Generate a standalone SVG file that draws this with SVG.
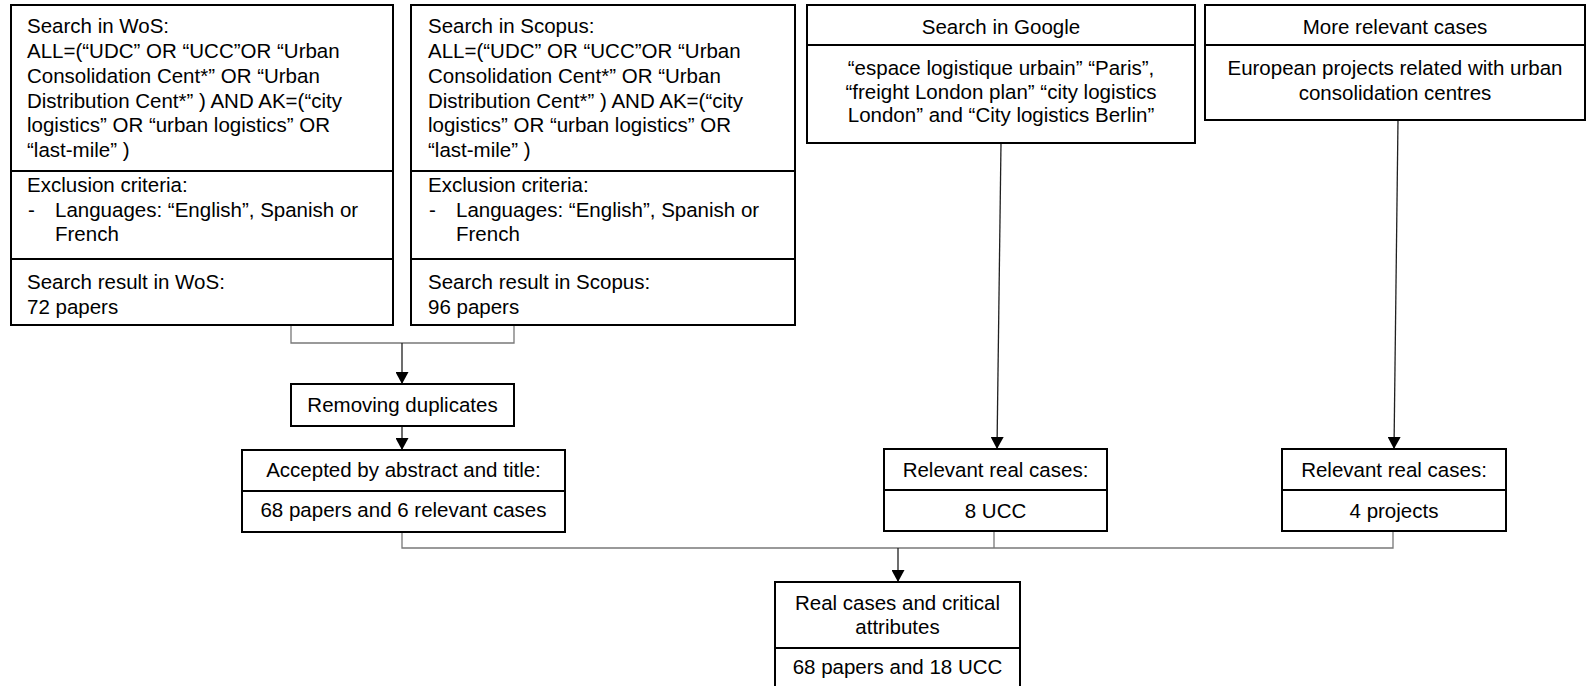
<svg xmlns="http://www.w3.org/2000/svg" width="1587" height="686" viewBox="0 0 1587 686">
<style>
  .box { fill: #ffffff; stroke: #000000; stroke-width: 2; }
  .div { stroke: #000000; stroke-width: 2; }
  .t { font-family: "Liberation Sans", Arial, sans-serif; font-size: 20.5px; fill: #000000; }
  .c { text-anchor: middle; }
  .conn { fill: none; stroke: #787878; stroke-width: 1.3; }
  .arr { fill: none; stroke: #202020; stroke-width: 1.3; marker-end: url(#ah); }
</style>
<defs>
  <marker id="ah" viewBox="0 0 12 13" refX="12" refY="6.5" markerWidth="12" markerHeight="13" markerUnits="userSpaceOnUse" orient="auto">
    <path d="M0,0 L12,6.5 L0,13 Z" fill="#000000"/>
  </marker>
</defs>
<rect width="1587" height="686" fill="#ffffff"/>

<g id="connectors">
  <polyline class="conn" points="291,325 291,343 514,343 514,325"/>
  <line class="arr" x1="402" y1="343" x2="402" y2="384"/>
  <line class="arr" x1="402" y1="426" x2="402" y2="450"/>
  <line class="arr" x1="1001" y1="143" x2="997" y2="449"/>
  <line class="arr" x1="1398" y1="120" x2="1394" y2="449"/>
  <polyline class="conn" points="402,532 402,548 1393,548 1393,531"/>
  <line class="conn" x1="994" y1="531" x2="994" y2="548"/>
  <line class="arr" x1="898" y1="548" x2="898" y2="582"/>
</g>

<g id="wos">
  <rect class="box" x="11" y="5" width="382" height="320"/>
  <line class="div" x1="11" y1="171" x2="393" y2="171"/>
  <line class="div" x1="11" y1="259" x2="393" y2="259"/>
  <text class="t" x="27" y="33">Search in WoS:</text>
  <text class="t" x="27" y="58">ALL=(“UDC” OR “UCC”OR “Urban</text>
  <text class="t" x="27" y="83">Consolidation Cent*” OR “Urban</text>
  <text class="t" x="27" y="108">Distribution Cent*” ) AND AK=(“city</text>
  <text class="t" x="27" y="132">logistics” OR “urban logistics” OR</text>
  <text class="t" x="27" y="157">“last-mile” )</text>
  <text class="t" x="27" y="192">Exclusion criteria:</text>
  <text class="t" x="28" y="217">-</text>
  <text class="t" x="55" y="217">Languages: “English”, Spanish or</text>
  <text class="t" x="55" y="241">French</text>
  <text class="t" x="27" y="289">Search result in WoS:</text>
  <text class="t" x="27" y="314">72 papers</text>
</g>

<g id="scopus">
  <rect class="box" x="411" y="5" width="384" height="320"/>
  <line class="div" x1="411" y1="171" x2="795" y2="171"/>
  <line class="div" x1="411" y1="259" x2="795" y2="259"/>
  <text class="t" x="428" y="33">Search in Scopus:</text>
  <text class="t" x="428" y="58">ALL=(“UDC” OR “UCC”OR “Urban</text>
  <text class="t" x="428" y="83">Consolidation Cent*” OR “Urban</text>
  <text class="t" x="428" y="108">Distribution Cent*” ) AND AK=(“city</text>
  <text class="t" x="428" y="132">logistics” OR “urban logistics” OR</text>
  <text class="t" x="428" y="157">“last-mile” )</text>
  <text class="t" x="428" y="192">Exclusion criteria:</text>
  <text class="t" x="429" y="217">-</text>
  <text class="t" x="456" y="217">Languages: “English”, Spanish or</text>
  <text class="t" x="456" y="241">French</text>
  <text class="t" x="428" y="289">Search result in Scopus:</text>
  <text class="t" x="428" y="314">96 papers</text>
</g>

<g id="google">
  <rect class="box" x="807" y="5" width="388" height="138"/>
  <line class="div" x1="807" y1="45" x2="1195" y2="45"/>
  <text class="t c" x="1001" y="34">Search in Google</text>
  <text class="t c" x="1001" y="75">“espace logistique urbain” “Paris”,</text>
  <text class="t c" x="1001" y="99">“freight London plan” “city logistics</text>
  <text class="t c" x="1001" y="122">London” and “City logistics Berlin”</text>
</g>

<g id="more">
  <rect class="box" x="1205" y="5" width="380" height="115"/>
  <line class="div" x1="1205" y1="45" x2="1585" y2="45"/>
  <text class="t c" x="1395" y="34">More relevant cases</text>
  <text class="t c" x="1395" y="75">European projects related with urban</text>
  <text class="t c" x="1395" y="100">consolidation centres</text>
</g>

<g id="dedup">
  <rect class="box" x="291" y="384" width="223" height="42"/>
  <text class="t c" x="402.5" y="412">Removing duplicates</text>
</g>

<g id="accepted">
  <rect class="box" x="242" y="450" width="323" height="82"/>
  <line class="div" x1="242" y1="491" x2="565" y2="491"/>
  <text class="t c" x="403.5" y="477">Accepted by abstract and title:</text>
  <text class="t c" x="403.5" y="517">68 papers and 6 relevant cases</text>
</g>

<g id="relevant-google">
  <rect class="box" x="884" y="449" width="223" height="82"/>
  <line class="div" x1="884" y1="490" x2="1107" y2="490"/>
  <text class="t c" x="995.5" y="477">Relevant real cases:</text>
  <text class="t c" x="995.5" y="518">8 UCC</text>
</g>

<g id="relevant-projects">
  <rect class="box" x="1282" y="449" width="224" height="82"/>
  <line class="div" x1="1282" y1="490" x2="1506" y2="490"/>
  <text class="t c" x="1394" y="477">Relevant real cases:</text>
  <text class="t c" x="1394" y="518">4 projects</text>
</g>

<g id="final">
  <rect class="box" x="775" y="582" width="245" height="110"/>
  <line class="div" x1="775" y1="648" x2="1020" y2="648"/>
  <text class="t c" x="897.5" y="610">Real cases and critical</text>
  <text class="t c" x="897.5" y="634">attributes</text>
  <text class="t c" x="897.5" y="674">68 papers and 18 UCC</text>
</g>
</svg>
